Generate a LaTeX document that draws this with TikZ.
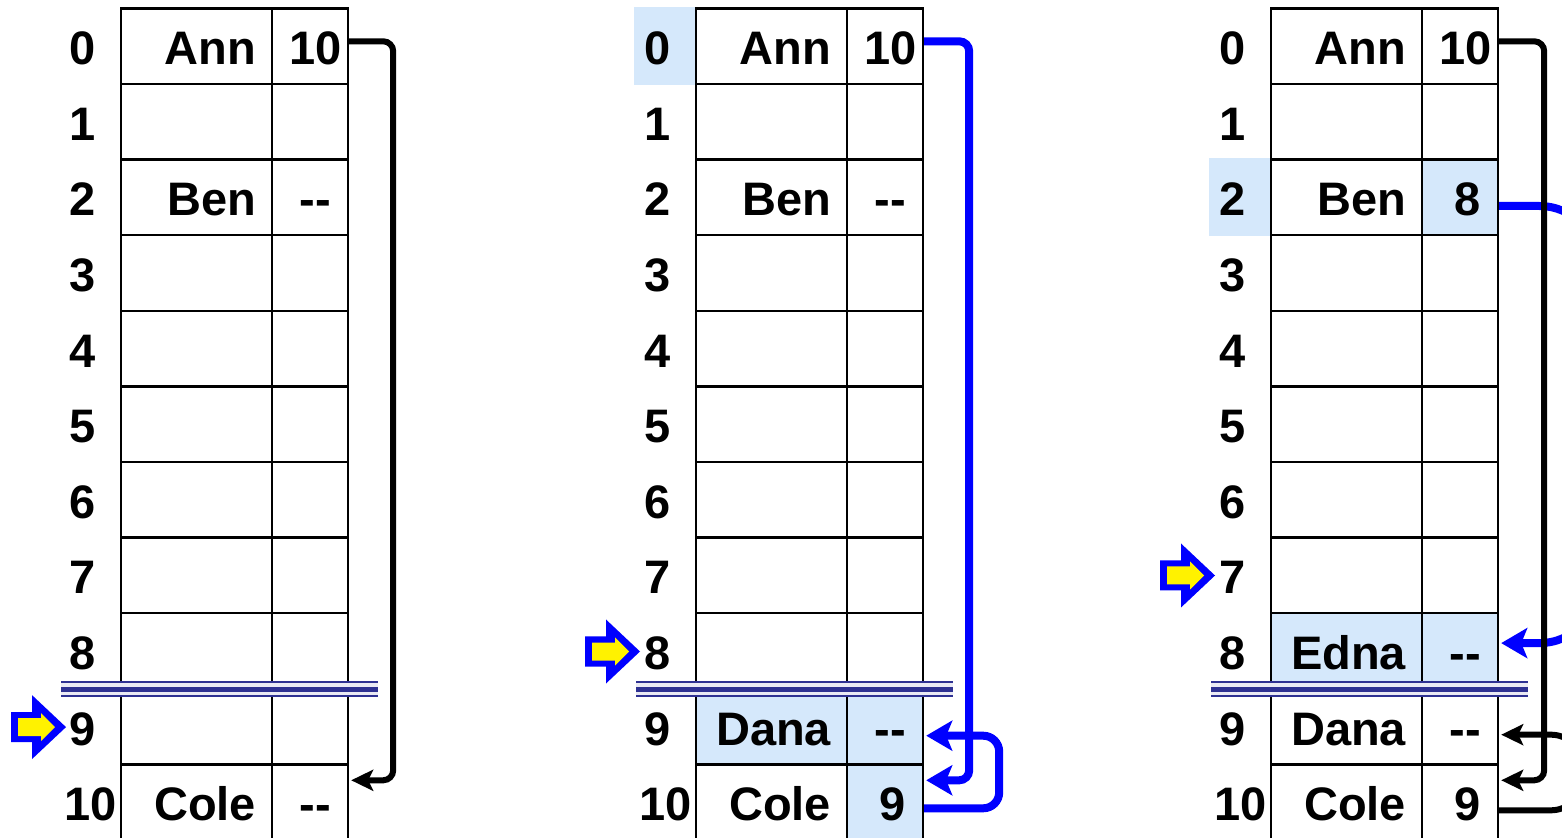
\documentclass[tikz,border=0pt]{standalone}
\usepackage{fontspec}
\setmainfont{Liberation Sans}
\usepackage{xcolor}
\usetikzlibrary{arrows.meta,backgrounds}
\definecolor{cellhl}{RGB}{213,232,251}
\definecolor{sepblue}{RGB}{46,49,146}
\definecolor{linkblue}{RGB}{0,0,255}
\newcommand{\slotptr}[1]{%
  \begin{scope}[shift={#1}]
    \fill[linkblue] (0,0) -- (-34,-32) -- (-34,-15) -- (-55,-15) -- (-55,15) -- (-34,15) -- (-34,32) -- cycle;
    \fill[yellow] (-11,0) -- (-25,-14) -- (-25,-9) -- (-48,-9) -- (-48,9) -- (-25,9) -- (-25,14) -- cycle;
  \end{scope}}
\newcommand{\slotsep}{%
  \fill[sepblue!10] (61,681) rectangle (378,697);
  \draw[sepblue, line width=1pt] (61,682.2) -- (378,682.2);
  \draw[sepblue, line width=2.5pt] (61,689.3) -- (378,689.3);
  \draw[sepblue, line width=1pt] (61,696.2) -- (378,696.2);}
\newcommand{\slottable}[2]{%
  \foreach \r in {0,...,9} \node[idx] (#1-i\r) at (83,46.3+75.6*\r) {\r};
  \node[idx] (#1-i10) at (90.5,802.3) {10};
  \foreach \r/\nm/\vl in {#2} {
    \pgfmathsetmacro{\ry}{46.3+75.6*\r}
    \node[namecell] (#1-n\r) at (196.5,\ry) {\nm};
    \node[valcell] (#1-v\r) at (310,\ry) {\vl};
  }}

\begin{document}
\begin{tikzpicture}[x=0.5pt, y=-0.5pt,
  font=\fontsize{23.5}{28}\selectfont\bfseries,
  idx/.style={inner sep=0pt, text height=18.5pt, text depth=0pt},
  namecell/.style={draw, line width=1.2pt, minimum width=75.5pt, minimum height=37.8pt, inner sep=0pt, text width=59.5pt, align=right, text height=18.5pt, text depth=0pt},
  valcell/.style={namecell, minimum width=38pt, text width=21pt},
  link/.style={line width=3pt, rounded corners=5pt, -{Stealth[length=11pt,width=10.5pt,inset=2.5pt]}},
  hotlink/.style={link, draw=linkblue, line width=4pt, -{Stealth[length=13pt,width=15pt,inset=3pt]}}]
  \useasboundingbox (0,0) rectangle (1562,838);
  \clip (0,0) rectangle (1562,838);

  % before inserting Dana
  \slottable{a}{0/Ann/10, 1/{}/{}, 2/Ben/-{}-, 3/{}/{}, 4/{}/{}, 5/{}/{}, 6/{}/{}, 7/{}/{}, 8/{}/{}, 9/{}/{}, 10/Cole/-{}-}
  \slotsep
  \slotptr{(66,727.1)}
  \draw[link] ([yshift=2.5pt]a-v0.east) -- ++(44,0) |- ([xshift=1pt,yshift=11pt]a-v10.east);

  % Dana goes into slot 9
  \begin{scope}[shift={(575,0)}]
    \slottable{b}{0/Ann/10, 1/{}/{}, 2/Ben/-{}-, 3/{}/{}, 4/{}/{}, 5/{}/{}, 6/{}/{}, 7/{}/{}, 8/{}/{}, 9/Dana/-{}-, 10/Cole/9}
    \begin{scope}[on background layer]
      \fill[cellhl] ([xshift=-30.5pt]b-n0.north west) rectangle (b-n0.south west);
      \fill[cellhl] (b-n9.north west) rectangle (b-v9.south east);
      \fill[cellhl] (b-v10.north west) rectangle (b-v10.south east);
    \end{scope}
    \slotsep
    \slotptr{(65,651.5)}
    \draw[hotlink] ([yshift=2.5pt]b-v0.east) -- ++(45,0) |- ([xshift=1pt,yshift=11pt]b-v10.east);
    \draw[hotlink, rounded corners=8pt] ([yshift=-3pt]b-v10.east) -- ++(75,0) |- ([xshift=1pt,yshift=-4.5pt]b-v9.east);
  \end{scope}

  % Edna goes into slot 8
  \begin{scope}[shift={(1150,0)}]
    \slottable{c}{0/Ann/10, 1/{}/{}, 2/Ben/8, 3/{}/{}, 4/{}/{}, 5/{}/{}, 6/{}/{}, 7/{}/{}, 8/Edna/-{}-, 9/Dana/-{}-, 10/Cole/9}
    \begin{scope}[on background layer]
      \fill[cellhl] ([xshift=-30.5pt]c-n2.north west) rectangle (c-n2.south west);
      \fill[cellhl] (c-v2.north west) rectangle (c-v2.south east);
      \fill[cellhl] (c-n8.north west) rectangle (c-v8.south east);
    \end{scope}
    \slotsep
    \slotptr{(65,575.5)}
    \draw[hotlink, rounded corners=30pt] ([yshift=-4.25pt]c-v2.east) -- ++(100,0) |- ([xshift=1pt,yshift=4pt]c-v8.east);
    \draw[link] ([yshift=2.5pt]c-v0.east) -- ++(45,0) |- ([xshift=1pt,yshift=11pt]c-v10.east);
    \draw[link, rounded corners=15pt] ([yshift=-4pt]c-v10.east) -- ++(82,0) |- ([xshift=1pt,yshift=-4pt]c-v9.east);
  \end{scope}
\end{tikzpicture}
\end{document}
